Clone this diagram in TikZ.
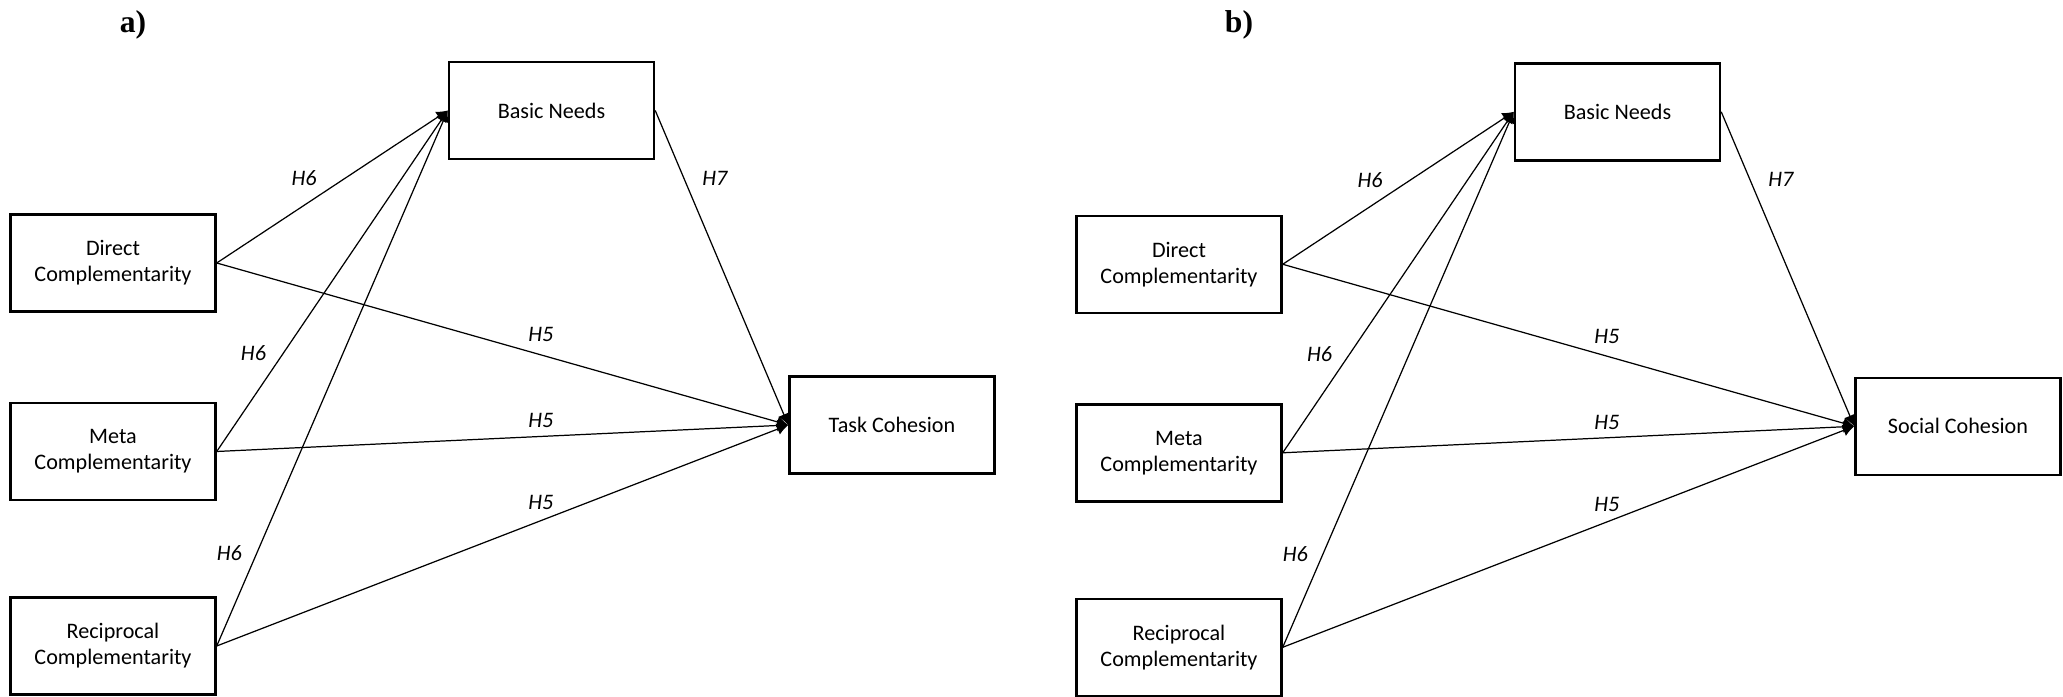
\documentclass[tikz,border=0pt]{standalone}
\usepackage{fontspec}
\setmainfont{Carlito}
\newfontfamily\titlefont{Liberation Serif}
\usetikzlibrary{arrows.meta}

\tikzset{
  var/.style={draw, line width=0.7pt, minimum width=2.05cm, minimum height=0.97cm,
    align=center, inner sep=0pt, font=\fontsize{6.3}{7.4}\selectfont},
  link/.style={line width=0.35pt, -{Latex[length=3.2pt,width=3.4pt]}},
  hyp/.style={inner sep=0pt, font=\fontsize{6.3}{7.4}\selectfont\itshape},
  paneltitle/.style={inner sep=0pt, font=\titlefont\bfseries\fontsize{9}{10}\selectfont}
}

\begin{document}
\begin{tikzpicture}

\useasboundingbox (0,0) rectangle (20.63,-6.97);

\foreach \p/\dx/\dy/\tx/\outc in {a/0/0/1.33/Task Cohesion, b/10.66/-0.013/12.39/Social Cohesion}{

  % Panel title
  \node[paneltitle] (\p-title) at (\tx,-0.25) {\p)};

  \begin{scope}[xshift=\dx cm, yshift=\dy cm]

  % Boxes
  \node[var] (\p-basic) at (5.515,-1.105) {Basic Needs};
  \node[var] (\p-direct) at (1.13,-2.63) {Direct\\Complementarity};
  \node[var] (\p-meta) at (1.13,-4.515) {Meta\\Complementarity};
  \node[var] (\p-recip) at (1.13,-6.46) {Reciprocal\\Complementarity};
  \node[var] (\p-out) at (8.92,-4.25) {\outc};

  % H6 paths
  \draw[link] (\p-direct.east) -- node[hyp, pos=0.378, yshift=0.27cm] (\p-h6d) {H6} (\p-basic.west);
  \draw[link] (\p-meta.east) -- node[hyp, pos=0.289, xshift=-0.30cm] (\p-h6m) {H6} (\p-basic.west);
  \draw[link] (\p-recip.east) -- node[hyp, pos=0.174, xshift=-0.275cm] (\p-h6r) {H6} (\p-basic.west);

  % H7 path
  \draw[link] (\p-basic.east) -- node[hyp, pos=0.215, xshift=0.31cm] (\p-h7) {H7} (\p-out.west);

  % H5 paths
  \draw[link] (\p-direct.east) -- node[hyp, pos=0.567, yshift=0.20cm] (\p-h5d) {H5} (\p-out.west);
  \draw[link] (\p-meta.east) -- node[hyp, pos=0.567, yshift=0.155cm] (\p-h5m) {H5} (\p-out.west);
  \draw[link] (\p-recip.east) -- node[hyp, pos=0.567, yshift=0.18cm] (\p-h5r) {H5} (\p-out.west);

  \end{scope}
}

\end{tikzpicture}
\end{document}
